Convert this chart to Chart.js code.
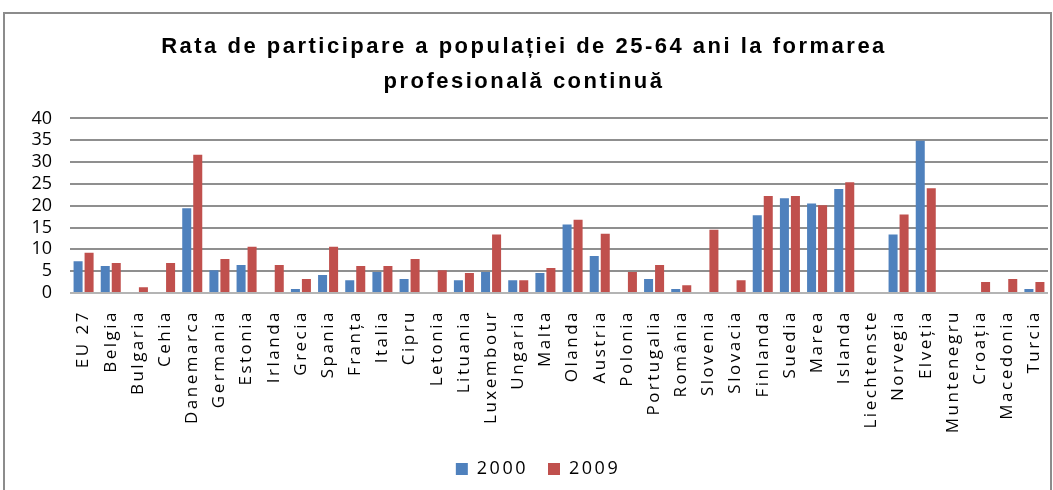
<!DOCTYPE html>
<html>
<head>
<meta charset="utf-8">
<script src="https://cdn.jsdelivr.net/npm/chart.js@4"></script>
<style>
    html, body { margin: 0; padding: 0; background: #fff; overflow: hidden; }
    #wrap { position: relative; width: 1053px; height: 490px; }
    #frame { position: absolute; left: 3px; top: 12px; width: 1045px; height: 500px; border: 2px solid #8c8c8c; }
    #mainChart { position: absolute; left: 0; top: 0; }
</style>
</head>
<body>
<div id="wrap">
    <div id="frame"></div>
    <canvas id="mainChart" width="1053" height="490"></canvas>
</div>
<script>
const countries = ['EU 27', 'Belgia', 'Bulgaria', 'Cehia', 'Danemarca', 'Germania', 'Estonia', 'Irlanda',
    'Grecia', 'Spania', 'Franța', 'Italia', 'Cipru', 'Letonia', 'Lituania', 'Luxembour', 'Ungaria', 'Malta',
    'Olanda', 'Austria', 'Polonia', 'Portugalia', 'România', 'Slovenia', 'Slovacia', 'Finlanda', 'Suedia',
    'Marea', 'Islanda', 'Liechtenste', 'Norvegia', 'Elveția', 'Muntenegru', 'Croația', 'Macedonia', 'Turcia'];

const values2000 = [7.3, 6.2, null, null, 19.4, 5.2, 6.4, null, 0.9, 4.1, 2.9, 4.8, 3.2, null, 2.9, 4.8, 2.9, 4.6,
    15.7, 8.5, null, 3.2, 0.9, null, null, 17.8, 21.7, 20.5, 23.8, null, 13.4, 34.9, null, null, null, 0.9];

const values2009 = [9.2, 6.9, 1.3, 6.9, 31.7, 7.8, 10.6, 6.4, 3.2, 10.6, 6.2, 6.2, 7.8, 5.2, 4.6, 13.4, 2.9, 5.7,
    16.8, 13.6, 4.8, 6.4, 1.8, 14.5, 2.9, 22.2, 22.2, 20.1, 25.4, null, 18.0, 24.0, null, 2.5, 3.2, 2.5];

const titleLines = ['Rata de participare a populației de 25-64 ani la formarea', 'profesională continuă'];

// the original text is drawn with wide letter spacing (title, x labels, legend)
const spacingPlugin = {
    id: 'spacing',
    beforeUpdate(chart) { chart.ctx.letterSpacing = '2.5px'; },
    afterUpdate(chart) {
        // legend sits a little right of centre in the original
        chart.legend.left += 14;
        chart.legend.right += 14;
    },
    beforeDraw(chart) { chart.ctx.letterSpacing = '2.5px'; },
    afterDatasetsDraw(chart) {
        // y tick labels are drawn after the bars, without spacing
        chart.ctx.letterSpacing = '0px';
    }
};

const ctx = document.getElementById('mainChart').getContext('2d');
const mainChart = new Chart(ctx, {
    type: 'bar',
    data: {
        labels: countries,
        datasets: [
            { label: '2000', data: values2000, backgroundColor: '#4F81BD' },
            { label: '2009', data: values2009, backgroundColor: '#C0504D' }
        ]
    },
    plugins: [spacingPlugin],
    options: {
        responsive: false,
        animation: false,
        categoryPercentage: 0.81,
        barPercentage: 0.82,
        layout: { padding: { left: 0, right: 5, top: 0, bottom: 2 } },
        plugins: {
            tooltip: { enabled: false },
            title: {
                display: true,
                text: titleLines,
                color: '#000',
                font: { family: 'Liberation Sans', size: 22, weight: 'bold', lineHeight: 1.6 },
                padding: { top: 29, bottom: 19 }
            },
            legend: {
                position: 'bottom',
                labels: {
                    color: '#000',
                    boxWidth: 12,
                    boxHeight: 12,
                    padding: 20,
                    font: { family: 'Open Sans', size: 18 }
                }
            }
        },
        scales: {
            y: {
                min: 0,
                max: 40,
                afterFit: (scale) => { scale.width = 70; },
                border: { display: false },
                grid: {
                    color: (c) => c.tick && c.tick.value === 0 ? '#b4b4b4' : '#8f8f8f',
                    lineWidth: 2,
                    drawTicks: false
                },
                ticks: {
                    z: 1,
                    color: '#000',
                    stepSize: 5,
                    autoSkip: false,
                    padding: 18,
                    font: { family: 'Open Sans', size: 18 }
                }
            },
            x: {
                afterFit: (scale) => {
                    scale.height = 147;
                    scale.paddingLeft = 0;
                    scale.paddingRight = 0;
                },
                border: { display: false },
                grid: { display: false },
                ticks: {
                    color: '#000',
                    minRotation: 90,
                    maxRotation: 90,
                    autoSkip: false,
                    padding: 9,
                    font: { family: 'Open Sans', size: 17 }
                }
            }
        }
    }
});
</script>
</body>
</html>
